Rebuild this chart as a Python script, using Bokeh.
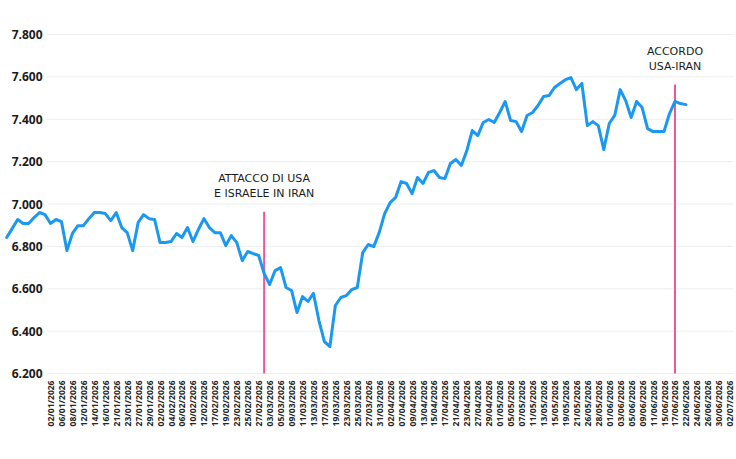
import numpy as np
import pandas as pd
from bokeh.plotting import figure
from bokeh.models import Range1d, FixedTicker
from bokeh.core.properties import value
from bokeh.embed import file_html
from bokeh.resources import INLINE

# US market sessions (exchange holidays removed)
HOLIDAYS = ["2025-12-25", "2026-01-01", "2026-01-19", "2026-02-16",
            "2026-04-03", "2026-05-25", "2026-06-19"]
SESSIONS = pd.bdate_range("2025-12-19", "2026-07-02", freq="C", holidays=HOLIDAYS)
SESSION_LABELS = [d.strftime("%d/%m/%Y") for d in SESSIONS]

AXIS_FIRST = "02/01/2026"
AXIS_LAST = "02/07/2026"

# daily close, one value per session starting 19/12/2025
CLOSE = [
    6842, 6884, 6927, 6908, 6908, 6936, 6960, 6950, 6908, 6927,
    6917, 6780, 6861, 6898, 6898, 6931, 6960, 6960, 6955, 6922,
    6960, 6889, 6865, 6780, 6913, 6950, 6931, 6927, 6818, 6818,
    6823, 6861, 6842, 6889, 6823, 6880, 6931, 6889, 6865, 6865,
    6804, 6851, 6818, 6733, 6776, 6766, 6757, 6672, 6620, 6686,
    6700, 6606, 6592, 6488, 6563, 6540, 6578, 6450, 6351, 6327,
    6521, 6559, 6568, 6596, 6606, 6771, 6809, 6799, 6865, 6955,
    7007, 7031, 7106, 7097, 7049, 7125, 7097, 7149, 7158, 7125,
    7120, 7191, 7210, 7182, 7252, 7347, 7323, 7385, 7399, 7385,
    7432, 7484, 7394, 7389, 7342, 7418, 7432, 7465, 7507, 7512,
    7550, 7569, 7587, 7597, 7540, 7569, 7370, 7389, 7370, 7257,
    7380, 7418, 7540, 7488, 7408, 7484, 7455, 7356, 7342, 7342,
    7342, 7427, 7484, 7474, 7469,
]

Y_TICKS = [6200, 6400, 6600, 6800, 7000, 7200, 7400, 7600, 7800]
Y_TICK_LABELS = ["6.200", "6.400", "6.600", "6.800", "7.000",
                 "7.200", "7.400", "7.600", "7.800"]

EVENT_DATES = ["02/03/2026", "17/06/2026"]
EVENT_LABELS = ["ATTACCO DI USA\nE ISRAELE IN IRAN", "ACCORDO\nUSA-IRAN"]
EVENT_TOPS = [6964, 7564]

BLUE = "#1b98f0"
PINK = "#ee559c"
GRID = "#eeeeee"
INK = "#1c1c1c"

first = SESSION_LABELS.index(AXIS_FIRST)
last = SESSION_LABELS.index(AXIS_LAST)

p = figure(width=736, height=459, output_backend="svg", toolbar_location=None,
           x_range=Range1d(first - 9.13, last + 1.23),
           y_range=Range1d(6143.6, 7960.5),
           y_axis_location=None,
           min_border_left=0, min_border_right=0, min_border_top=0,
           min_border_bottom=74)
p.outline_line_color = None
p.grid.visible = False
p.background_fill_color = "white"
p.border_fill_color = "white"

# horizontal guides across the dated part of the chart
p.segment(x0=first - 0.7, x1=last + 0.7, y0=Y_TICKS, y1=Y_TICKS,
          line_color=GRID, line_width=1)

# value labels drawn inside the frame on the left
p.text(x=first - 1.46, y=Y_TICKS, text=Y_TICK_LABELS,
       text_align="right", text_baseline="middle",
       text_font=value("Open Sans"), text_font_style="bold",
       text_font_size="12px", text_color=INK)

# event markers
ev_x = [SESSION_LABELS.index(d) for d in EVENT_DATES]
p.segment(x0=ev_x, x1=ev_x, y0=[Y_TICKS[0]] * len(ev_x), y1=EVENT_TOPS,
          line_color=PINK, line_width=2)
p.text(x=ev_x, y=EVENT_TOPS, text=EVENT_LABELS, y_offset=-12,
       text_align="center", text_baseline="bottom",
       text_font=value("DejaVu Sans"), text_font_size="11px",
       text_line_height=1.15, text_color=INK)

# price line
p.line(x=list(range(len(CLOSE))), y=CLOSE, line_color=BLUE, line_width=3,
       line_join="round", line_cap="round")

ticks = list(range(first, last + 1, 2))
ax = p.xaxis[0]
ax.ticker = FixedTicker(ticks=ticks)
ax.major_label_overrides = {t: SESSION_LABELS[t] for t in ticks}
ax.major_label_orientation = np.pi / 2
ax.axis_line_color = None
ax.major_tick_line_color = None
ax.major_tick_out = 0
ax.major_tick_in = 0
ax.minor_tick_line_color = None
ax.major_label_standoff = -5
ax.major_label_text_font = "Open Sans"
ax.major_label_text_font_style = "bold"
ax.major_label_text_font_size = "8.5px"
ax.major_label_text_color = "#262626"

open("out.html", "w").write(file_html(p, INLINE))
